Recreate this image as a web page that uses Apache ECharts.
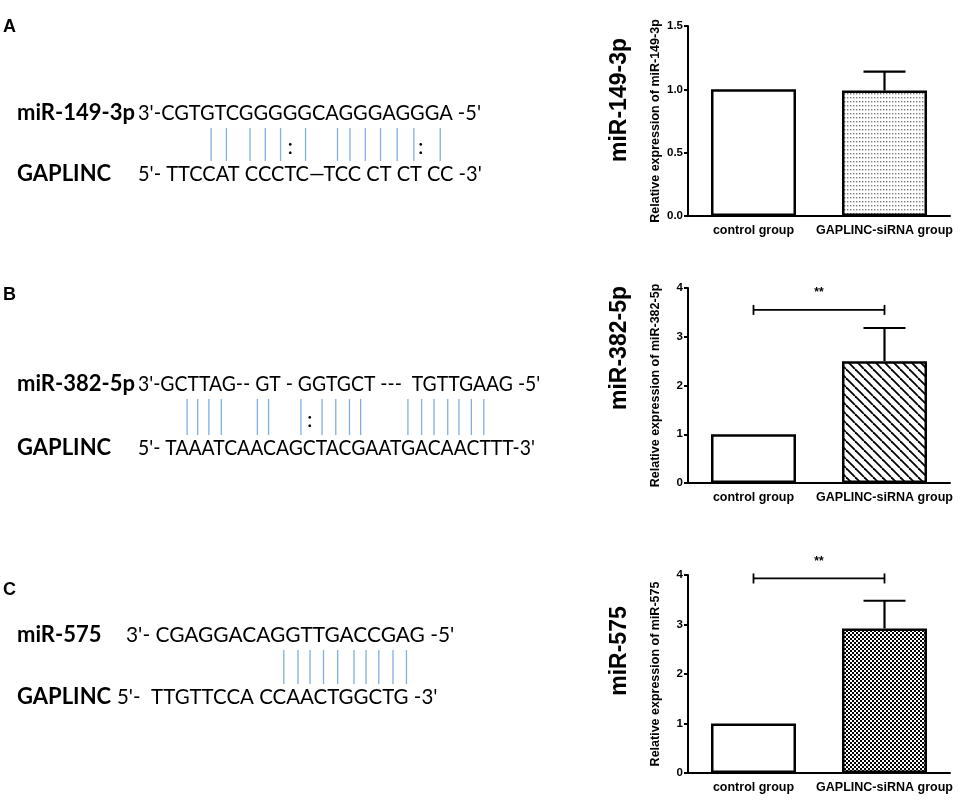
<!DOCTYPE html>
<html><head><meta charset="utf-8">
<script src="https://cdn.jsdelivr.net/npm/echarts@6/dist/echarts.min.js"></script>
<style>html,body{margin:0;padding:0;background:#fff}#c{width:965px;height:801px}</style>
</head><body><div id="c"></div>
<script>
// ---------- data ----------
const panelLetters = ['A', 'B', 'C'];
const categories = ['control group', 'GAPLINC-siRNA group'];
const miRNAs = ['miR-149-3p', 'miR-382-5p', 'miR-575'];
const targetName = 'GAPLINC';

const meansA = [1.0, 0.99];
const errA = [0, 0.15];
const meansB = [1.0, 2.5];
const errB = [0, 0.68];
const meansC = [1.0, 2.92];
const errC = [0, 0.56];
const sigB = [0, 1, 3.55, '**'];
const sigC = [0, 1, 3.93, '**'];

const yTicksA = [0, 1.5, 0.5];
const yTicksB = [0, 4, 1];
const yTicksC = [0, 4, 1];

// sequence rows: [prefix, sequence, suffix]
const topA = ["3'-", "CGTGTCGGGGGCAGGGAGGGA", " -5'"];
const botA = ["5'- ", "TTCCAT CCCTC\u2014TCC CT CT CC", " -3'"];
const topB = ["3'-", "GCTTAG-- GT - GGTGCT ---  TGTTGAAG", " -5'"];
const botB = ["5'- ", "TAAATCAACAGCTACGAATGACAACTTT", "-3'"];
const topC = ["3'- ", "CGAGGACAGGTTGACCGAG", " -5'"];
const botC = ["5'-  ", "TTGTTCCA CCAACTGGCTG", " -3'"];

// base-pair positions (nucleotide index along the reference row's sequence)
const pairsA = [3.1, 4.2, 5.9, 7.0, 8.1, 9.9, 12.2, 13.1, 14.2, 15.3, 16.5, 17.7, 19.6];
const wobbleA = [8.8, 18.2];
const pairsB = [1.25, 2.1, 3.0, 4.0, 6.9, 7.8, 10.4, 12.1, 13.2, 14.3, 15.2, 19.0, 20.1, 21.1, 22.2, 23.1, 24.1, 25.1];
const wobbleB = [11.1];
const pairsC = [8.55, 9.55, 10.4, 11.35, 12.35, 13.5, 14.35, 15.25, 16.25, 17.2];
const wobbleC = [];

// ---------- layout ----------
const seqSize = 22;
const seqFont = seqSize + 'px Lato';
const labFont = 'bold ' + seqSize + 'px Lato';
const mctx = document.createElement('canvas').getContext('2d');
function tw(t, f) { mctx.font = f; return mctx.measureText(t).width; }

const panels = [
  { top: topA, bot: botA, pairs: pairsA, wob: wobbleA, ref: 'top', sx: 0.91, sxb: 0.91, letterY: 27, topY: 113, botY: 174, seqX: 138, botX: 138 },
  { top: topB, bot: botB, pairs: pairsB, wob: wobbleB, ref: 'bot', sx: 0.88, sxb: 0.88, letterY: 295, topY: 384, botY: 448, seqX: 138, botX: 138 },
  { top: topC, bot: botC, pairs: pairsC, wob: wobbleC, ref: 'top', sx: 0.95, sxb: 0.93, letterY: 590, topY: 635, botY: 697, seqX: 126, botX: 117 }
];

const graphics = [];
const mid = { textVerticalAlign: 'middle', verticalAlign: 'middle' };
panels.forEach((p, i) => {
  graphics.push({ type: 'text', x: 3, y: p.letterY, style: Object.assign({ text: panelLetters[i], font: 'bold 18px Arial', fill: '#000' }, mid) });
  graphics.push({ type: 'text', x: 17, y: p.topY, style: Object.assign({ text: miRNAs[i], font: labFont, fill: '#000' }, mid) });
  graphics.push({ type: 'text', x: 17, y: p.botY, style: Object.assign({ text: targetName, font: labFont, fill: '#000' }, mid) });
  graphics.push({ type: 'text', x: p.seqX, y: p.topY, scaleX: p.sx, style: Object.assign({ text: p.top.join(''), font: seqFont, fill: '#000' }, mid) });
  graphics.push({ type: 'text', x: p.botX, y: p.botY, scaleX: p.sxb, style: Object.assign({ text: p.bot.join(''), font: seqFont, fill: '#000' }, mid) });
  const row = p.ref === 'top' ? p.top : p.bot;
  const rx = p.ref === 'top' ? p.seqX : p.botX;
  const sc = p.ref === 'top' ? p.sx : p.sxb;
  const x0 = tw(row[0], seqFont);
  const unit = tw(row[1], seqFont) / row[1].length;
  const y1 = p.topY + 15, y2 = p.botY - 13;
  p.pairs.forEach(u => {
    const x = rx + sc * (x0 + (u + 0.5) * unit);
    graphics.push({ type: 'line', shape: { x1: x, y1: y1, x2: x, y2: y2 }, style: { stroke: '#7fb0e0', lineWidth: 1.3 } });
  });
  p.wob.forEach(u => {
    const x = rx + sc * (x0 + (u + 0.5) * unit);
    graphics.push({ type: 'text', x: x, y: y1 + (y2 - y1) * 0.58, style: Object.assign({ text: ':', font: seqFont, fill: '#000', textAlign: 'center', align: 'center' }, mid) });
  });
});

// big rotated labels beside the bar charts
const bigY = [100, 348, 651];
bigY.forEach((y, i) => {
  graphics.push({ type: 'text', x: 620, y: y, rotation: Math.PI / 2, style: Object.assign({ text: miRNAs[i], font: 'bold 23px Arial', fill: '#000', textAlign: 'center', align: 'center' }, mid) });
});

// ---------- patterns ----------
function pattern(kind) {
  const c = document.createElement('canvas');
  const g = c.getContext('2d');
  if (kind === 'dots') {
    c.width = 3; c.height = 4;
    g.fillStyle = '#fff'; g.fillRect(0, 0, 3, 4);
    g.fillStyle = '#7a7a7a'; g.fillRect(1, 1, 1.4, 1.4);
  } else if (kind === 'hatch') {
    c.width = 9; c.height = 9;
    g.fillStyle = '#fff'; g.fillRect(0, 0, 9, 9);
    g.strokeStyle = '#000'; g.lineWidth = 1.8;
    [-9, 0, 9].forEach(o => { g.beginPath(); g.moveTo(o, 0); g.lineTo(o + 9, 9); g.stroke(); });
  } else {
    c.width = 4; c.height = 4;
    g.fillStyle = '#fff'; g.fillRect(0, 0, 4, 4);
    g.fillStyle = '#000'; g.fillRect(0, 0, 2, 2); g.fillRect(2, 2, 2, 2);
  }
  return { image: c, repeat: 'repeat' };
}
const fills = [pattern('dots'), pattern('hatch'), pattern('checker')];

// ---------- charts ----------
const grids = [
  { left: 688, top: 26, width: 262, height: 190 },
  { left: 688, top: 288, width: 262, height: 195 },
  { left: 688, top: 575, width: 262, height: 198 }
];
const meansAll = [meansA, meansB, meansC];
const errAll = [errA, errB, errC];
const ticksAll = [yTicksA, yTicksB, yTicksC];
const sigAll = [null, sigB, sigC];

const xAxes = [], yAxes = [], series = [];
for (let i = 0; i < 3; i++) {
  xAxes.push({
    gridIndex: i, type: 'category', data: categories,
    axisLine: { lineStyle: { color: '#000', width: 2 } },
    axisTick: { alignWithLabel: true, length: 5, lineStyle: { color: '#000', width: 2 } },
    axisLabel: { interval: 0, color: '#000', fontWeight: 'bold', fontSize: 12.5, fontFamily: 'Arial', margin: 8 }
  });
  const t = ticksAll[i];
  yAxes.push({
    gridIndex: i, type: 'value', min: t[0], max: t[1], interval: t[2],
    axisLine: { show: true, lineStyle: { color: '#000', width: 2 } },
    axisTick: { show: true, length: 4, lineStyle: { color: '#000', width: 2 } },
    splitLine: { show: false },
    axisLabel: { color: '#000', fontWeight: 'bold', fontSize: 11.5, fontFamily: 'Arial', margin: 5,
      formatter: v => i === 0 ? v.toFixed(1) : String(v) },
    name: 'Relative expression of ' + miRNAs[i], nameLocation: 'middle', nameGap: 26, nameMoveOverlap: false,
    nameTextStyle: { color: '#000', fontWeight: 'bold', fontSize: 12.5, fontFamily: 'Arial' }
  });
  series.push({
    type: 'bar', xAxisIndex: i, yAxisIndex: i, barWidth: 85, silent: true,
    data: meansAll[i].map((v, k) => ({ value: v, itemStyle: { color: k === 0 ? '#fff' : fills[i], borderColor: '#000', borderWidth: 2.5 } }))
  });
  series.push({
    type: 'custom', xAxisIndex: i, yAxisIndex: i, silent: true, z: 1,
    encode: { x: 0, y: 1 },
    data: meansAll[i].map((v, k) => [k, v, errAll[i][k]]),
    renderItem: (params, api) => {
      const e = api.value(2);
      if (!e) return null;
      const x = api.value(0), m = api.value(1);
      const p0 = api.coord([x, m]), p1 = api.coord([x, m + e]);
      return { type: 'group', children: [
        { type: 'line', shape: { x1: p0[0], y1: p0[1], x2: p1[0], y2: p1[1] }, style: { stroke: '#000', lineWidth: 2.2 } },
        { type: 'line', shape: { x1: p1[0] - 21, y1: p1[1], x2: p1[0] + 21, y2: p1[1] }, style: { stroke: '#000', lineWidth: 2.2 } }
      ] };
    }
  });
  if (sigAll[i]) {
    const s = sigAll[i];
    series.push({
      type: 'custom', xAxisIndex: i, yAxisIndex: i, silent: true, clip: false,
      encode: { x: [0, 1], y: 2 },
      data: [[s[0], s[1], s[2]]],
      renderItem: (params, api) => {
        const a = api.coord([api.value(0), api.value(2)]);
        const b = api.coord([api.value(1), api.value(2)]);
        const st = { stroke: '#000', lineWidth: 1.8 };
        return { type: 'group', children: [
          { type: 'line', shape: { x1: a[0], y1: a[1], x2: b[0], y2: b[1] }, style: st },
          { type: 'line', shape: { x1: a[0], y1: a[1] - 5, x2: a[0], y2: a[1] + 5 }, style: st },
          { type: 'line', shape: { x1: b[0], y1: b[1] - 5, x2: b[0], y2: b[1] + 5 }, style: st },
          { type: 'text', style: { text: s[3], x: (a[0] + b[0]) / 2, y: a[1] - 17, font: 'bold 12px Arial', fill: '#000', align: 'center', textAlign: 'center', verticalAlign: 'middle', textVerticalAlign: 'middle' } }
        ] };
      }
    });
  }
}

const chart = echarts.init(document.getElementById('c'));
chart.setOption({
  backgroundColor: '#fff',
  animation: false,
  grid: grids, xAxis: xAxes, yAxis: yAxes, series: series,
  graphic: graphics
});
</script></body></html>
